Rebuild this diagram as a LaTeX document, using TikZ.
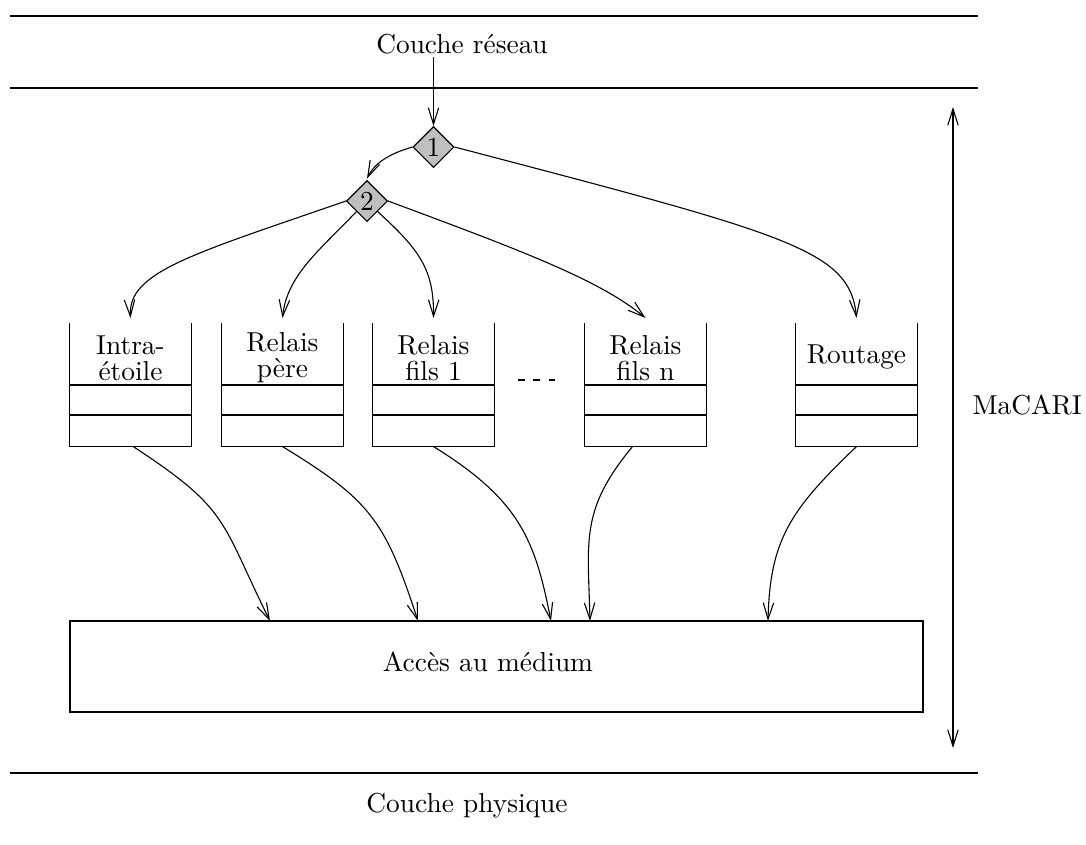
\documentclass[tikz,border=0pt]{standalone}
\usetikzlibrary{shapes.geometric,arrows.meta,calc}
\newdimen\pxu
\pxu=0.365pt
\begin{document}
\begin{tikzpicture}[x=0.365pt,y=-0.365pt,
  >={Straight Barb[length=6pt,width=3.8pt]},
  every path/.style={line width=0.4pt},
  txt/.style={font=\normalsize,inner sep=1pt},
  qtxt/.style={font={\fontsize{10}{9.4}\selectfont},align=center,inner sep=0pt},
  dia/.style={diamond,draw,fill=black!25,inner sep=0pt,minimum width=41\pxu,minimum height=41\pxu,font=\normalsize},
  qbox/.style={minimum width=121\pxu,minimum height=122\pxu,inner sep=0pt},
  medbox/.style={draw,minimum width=853\pxu,minimum height=91\pxu,inner sep=0pt}]
\useasboundingbox (0,0) rectangle (1086,845);
% layer lines
\coordinate (l1a) at (10,16); \coordinate (l1b) at (978,16);
\coordinate (l2a) at (10,88); \coordinate (l2b) at (978,88);
\coordinate (l3a) at (10,773); \coordinate (l3b) at (978,773);
\draw (l1a) -- (l1b);
\draw (l2a) -- (l2b);
\draw (l3a) -- (l3b);
\node[txt] (cr) at (462,44) {Couche réseau};
\node[txt] (cp) at (467,806) {Couche physique};
\node[txt,anchor=east] (mac) at (1085,405) {MaCARI};
% double arrow
\coordinate (va) at (953,107); \coordinate (vb) at (953,748);
\draw[<->] (va) -- (vb);
% diamonds
\node[dia] (d1) at (433.5,147) {1};
\node[dia] (d2) at (367,201) {2};
% queues
\node[qbox] (q1) at (130.5,385) {};
\node[qbox] (q2) at (282.5,385) {};
\node[qbox] (q3) at (433.5,385) {};
\node[qbox] (q4) at (645.5,385) {};
\node[qbox] (q5) at (856.5,385) {};
\foreach \q in {q1,q2,q3,q4,q5}{
  \draw (\q.north west) -- (\q.south west) -- (\q.south east) -- (\q.north east);
  \draw (\q.west) -- (\q.east);
  \draw ([yshift=-30\pxu]\q.west) -- ([yshift=-30\pxu]\q.east);
}
\node[qtxt] (t1) at (130.5,358) {Intra-\\étoile};
\node[qtxt] (t2) at (282.5,358) {Relais\\père};
\node[qtxt] (t3) at (433.5,358) {Relais\\fils 1};
\node[qtxt] (t4) at (645.5,358) {Relais\\fils n};
\node[txt] (t5) at (856.5,357) {Routage};
\coordinate (da) at (518,380); \coordinate (db) at (560,380);
\draw[dash pattern=on 2.4pt off 3.2pt] (da) -- (db);
% medium
\node[medbox] (m) at (496.5,666.5) {};
\node[txt] (mt) at (488,662) {Accès au médium};
% top arrows
\draw[->] (d1 |- cr.south) -- (d1.north);
\draw[->] (d1.west) .. controls (388,154) and (374,164) .. ([yshift=0.5pt]d2.north);
\draw[->] (d1.east) .. controls (790,235) and (850,250) .. ([yshift=2pt]q5.north);
\draw[->] (d2.west) .. controls (190,255) and (128,272) .. ([yshift=2pt]q1.north);
\draw[->] (d2.south west) .. controls (320,250) and (287,275) .. ([yshift=2pt]q2.north);
\draw[->] (d2.south east) .. controls (420,250) and (434,270) .. ([yshift=2pt]q3.north);
\draw[->] (d2.east) .. controls (520,250) and (600,280) .. ([yshift=2pt]q4.north);
% bottom arrows
\coordinate (e1) at (270,621);
\coordinate (e2) at (418,621);
\coordinate (e3) at (551,621);
\coordinate (e4) at (590,621);
\coordinate (e5) at (768,621);
\draw[->] ([xshift=1pt]q1.south) .. controls (230,510) and (220,520) .. (e1);
\draw[->] (q2.south) .. controls (370,500) and (385,520) .. (e2);
\draw[->] (q3.south) .. controls (520,500) and (535,540) .. (e3);
\draw[->] ([xshift=-13\pxu]q4.south) .. controls (580,510) and (588,540) .. (e4);
\draw[->] (q5.south) .. controls (790,510) and (770,540) .. (e5);
\end{tikzpicture}
\end{document}
